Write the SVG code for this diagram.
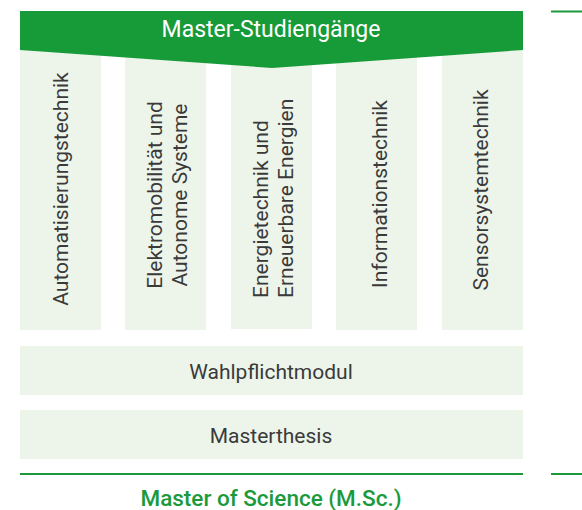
<svg xmlns="http://www.w3.org/2000/svg" width="582" height="510" viewBox="0 0 582 510">
<style>
.col{fill:#edf5ea}
.t{font-family:Roboto,"Liberation Sans",sans-serif;font-size:21px;fill:#3a3a3a}
.g{stroke:#1a9a3a;stroke-width:2;fill:none}
</style>
<rect width="582" height="510" fill="#ffffff"/>
<g id="col1"><rect class="col" x="20" y="45" width="81" height="285"/><text class="t" transform="translate(68,189) rotate(-90)" text-anchor="middle">Automatisierungstechnik</text></g>
<g id="col2"><rect class="col" x="125" y="45" width="81" height="285"/><text class="t" transform="translate(161.5,195) rotate(-90)" text-anchor="middle">Elektromobilität und</text><text class="t" transform="translate(187,195) rotate(-90)" text-anchor="middle">Autonome Systeme</text></g>
<g id="col3"><rect class="col" x="231" y="45" width="81" height="284"/><text class="t" transform="translate(268,298) rotate(-90)">Energietechnik und</text><text class="t" transform="translate(293,298) rotate(-90)">Erneuerbare Energien</text></g>
<g id="col4"><rect class="col" x="336" y="45" width="81" height="285"/><text class="t" transform="translate(386.5,194) rotate(-90)" text-anchor="middle">Informationstechnik</text></g>
<g id="col5"><rect class="col" x="442" y="45" width="81" height="285"/><text class="t" transform="translate(488,190) rotate(-90)" text-anchor="middle">Sensorsystemtechnik</text></g>
<g id="banner"><polygon points="20,11 523,11 523,50 272,68 20,50" fill="#179a38"/><text x="271" y="36.5" text-anchor="middle" style="font-family:Roboto,'Liberation Sans',sans-serif;font-size:23px;font-weight:400;fill:#ffffff">Master-Studiengänge</text></g>
<g id="wahlpflicht"><rect class="col" x="20" y="346" width="503" height="49"/><text class="t" x="271" y="379" text-anchor="middle">Wahlpflichtmodul</text></g>
<g id="masterthesis"><rect class="col" x="20" y="410" width="503" height="49"/><text class="t" x="271" y="442.5" text-anchor="middle">Masterthesis</text></g>
<g id="connectors"><line class="g" x1="551" y1="11.5" x2="582" y2="11.5"/><line class="g" x1="20" y1="474" x2="523" y2="474"/><line class="g" x1="551" y1="474" x2="582" y2="474"/></g>
<g id="degree"><text x="271" y="506" text-anchor="middle" style="font-family:Roboto,'Liberation Sans',sans-serif;font-size:22.5px;font-weight:500;fill:#1a9a3a">Master of Science (M.Sc.)</text></g>
</svg>
